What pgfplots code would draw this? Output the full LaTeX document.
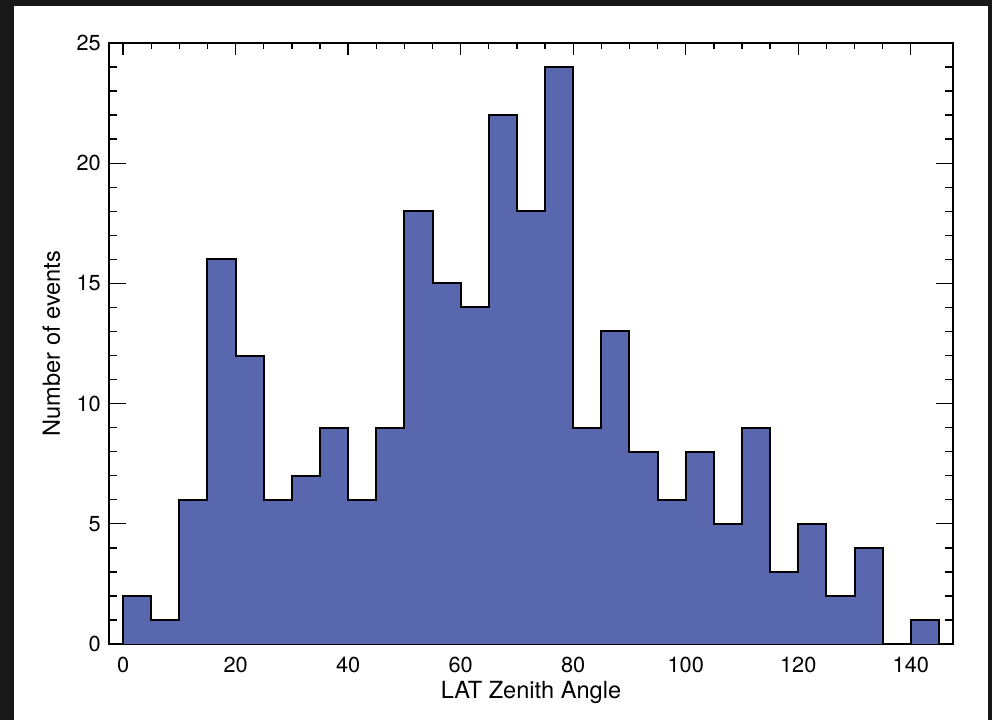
\documentclass[border=0pt]{standalone}
\usepackage{pgfplots}
\pgfplotsset{compat=1.18}
\usepackage{fontspec}
\setmainfont{TeX Gyre Heros}
\definecolor{histblue}{RGB}{89,104,174}
\definecolor{bgdark}{RGB}{24,24,24}
\begin{document}
\begin{tikzpicture}
\fill[bgdark] (0,0) rectangle (744pt,540pt);
\fill[white] (10.5pt,0) rectangle (741pt,535.5pt);
\begin{axis}[
  at={(81.75pt,57pt)}, anchor=south west,
  scale only axis, width=633pt, height=450.75pt,
  xmin=-2.5, xmax=147.5, ymin=0, ymax=25,
  xtick={0,20,...,140}, ytick={0,5,...,25},
  minor x tick num=3, minor y tick num=4,
  tick align=inside,
  axis line style={line width=1.1pt},
  every tick/.style={black, line width=1pt},
  xtick style={/pgfplots/major tick length=9pt, /pgfplots/minor tick length=4.5pt},
  ytick style={/pgfplots/major tick length=12.7pt, /pgfplots/minor tick length=6.3pt},
  /pgf/number format/assume math mode=true,
  ticklabel style={font=\fontsize{16.3}{18}\selectfont, inner sep=0pt},
  xticklabel style={anchor=base, yshift=-21.75pt},
  yticklabel style={anchor=east, xshift=-6pt},
  xlabel={LAT Zenith Angle},
  ylabel={Number of events},
  label style={font=\fontsize{17.7}{20}\selectfont, inner sep=0pt},
  xlabel style={at={(axis description cs:0.5,0)}, anchor=base, yshift=-41.25pt},
  ylabel style={at={(axis description cs:-0.05806,0.5)}, anchor=base, rotate=0},
  axis on top=false,
]
\addplot[const plot, fill=histblue, draw=black, line width=1.5pt] coordinates {
(0,0) (0,2) (5,1) (10,6) (15,16) (20,12) (25,6) (30,7) (35,9) (40,6) (45,9)
(50,18) (55,15) (60,14) (65,22) (70,18) (75,24) (80,9) (85,13) (90,8) (95,6)
(100,8) (105,5) (110,9) (115,3) (120,5) (125,2) (130,4) (135,0) (140,1) (145,1) (145,0)
};
\end{axis}
\end{tikzpicture}
\end{document}
